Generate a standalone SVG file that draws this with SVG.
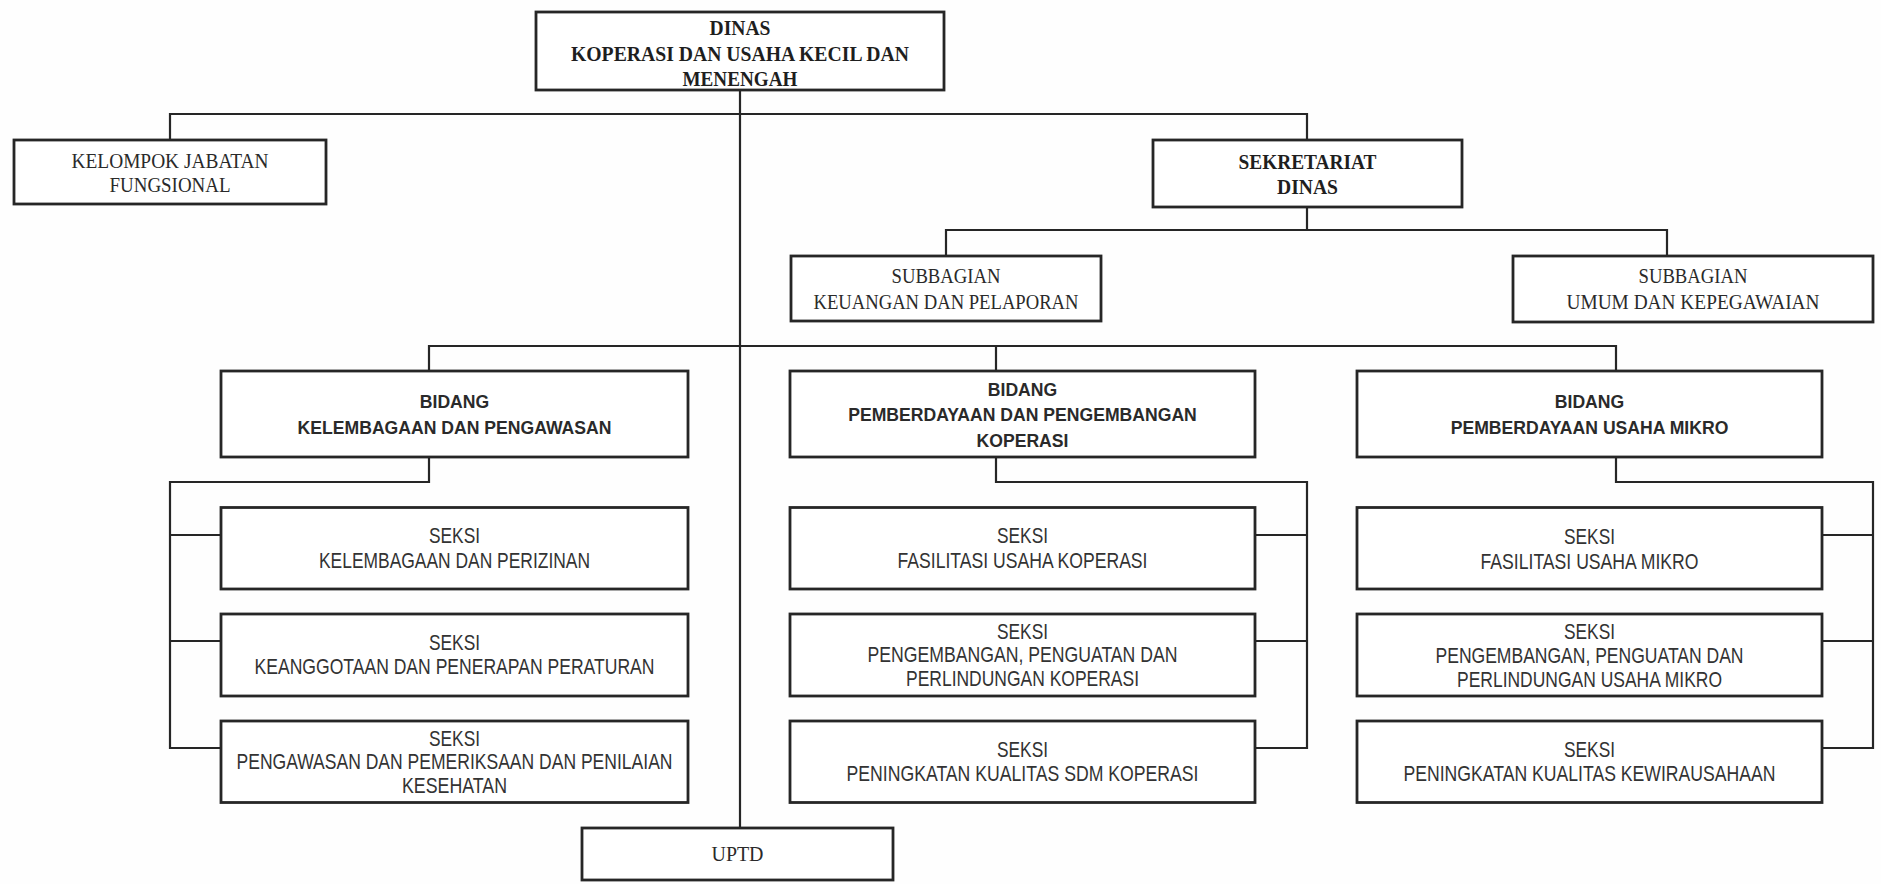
<svg xmlns="http://www.w3.org/2000/svg" width="1881" height="884" viewBox="0 0 1881 884">
<style>
.box{fill:#fff;stroke:#262626;stroke-width:2.8}
.ln{fill:none;stroke:#262626;stroke-width:2.2}
.sb{font-family:"Liberation Serif",serif;font-weight:bold;font-size:20px;fill:#1e1e1e;text-anchor:middle}
.sr{font-family:"Liberation Serif",serif;font-size:20.5px;fill:#2a2a2a;text-anchor:middle}
.hb{font-family:"Liberation Sans",Arial,sans-serif;font-weight:bold;font-size:17.6px;fill:#2a2a2a;text-anchor:middle}
.hr{font-family:"Liberation Sans",Arial,sans-serif;font-size:22px;fill:#333;text-anchor:middle}
</style>
<rect width="1881" height="884" fill="#fefefe"/>
<g id="connectors">
<path class="ln" d="M740 90V828"/>
<path class="ln" d="M170 140V114H1307V140"/>
<path class="ln" d="M1307 207V230M946 256V230H1667V256"/>
<path class="ln" d="M429 371V346H1616V371M996 346V371"/>
<path class="ln" d="M429 457V482H170V748H221M170 535H221M170 641H221"/>
<path class="ln" d="M996 457V482H1307V748H1255M1307 535H1255M1307 641H1255"/>
<path class="ln" d="M1616 457V482H1873V748H1822M1873 535H1822M1873 641H1822"/>
</g>
<g id="dinas">
<rect class="box" x="536" y="12" width="408" height="78"/>
<text class="sb" x="740" y="35" textLength="61" lengthAdjust="spacingAndGlyphs">DINAS</text>
<text class="sb" x="740" y="61" textLength="338" lengthAdjust="spacingAndGlyphs">KOPERASI DAN USAHA KECIL DAN</text>
<text class="sb" x="740" y="85.5" textLength="115" lengthAdjust="spacingAndGlyphs">MENENGAH</text>
</g>
<g id="kelompok">
<rect class="box" x="14" y="140" width="312" height="64"/>
<text class="sr" x="170" y="168" textLength="197" lengthAdjust="spacingAndGlyphs">KELOMPOK JABATAN</text>
<text class="sr" x="170" y="192" textLength="121" lengthAdjust="spacingAndGlyphs">FUNGSIONAL</text>
</g>
<g id="sekretariat">
<rect class="box" x="1153" y="140" width="309" height="67"/>
<text class="sb" x="1307.5" y="168.5" textLength="138" lengthAdjust="spacingAndGlyphs">SEKRETARIAT</text>
<text class="sb" x="1307.5" y="193.5" textLength="61" lengthAdjust="spacingAndGlyphs">DINAS</text>
</g>
<g id="subbagian-keuangan">
<rect class="box" x="791" y="256" width="310" height="65"/>
<text class="sr" x="946" y="283" textLength="109" lengthAdjust="spacingAndGlyphs">SUBBAGIAN</text>
<text class="sr" x="946" y="308.5" textLength="265" lengthAdjust="spacingAndGlyphs">KEUANGAN DAN PELAPORAN</text>
</g>
<g id="subbagian-umum">
<rect class="box" x="1513" y="256" width="360" height="66"/>
<text class="sr" x="1693" y="283" textLength="109" lengthAdjust="spacingAndGlyphs">SUBBAGIAN</text>
<text class="sr" x="1693" y="308.5" textLength="253" lengthAdjust="spacingAndGlyphs">UMUM DAN KEPEGAWAIAN</text>
</g>
<g id="bidang-kelembagaan">
<rect class="box" x="221" y="371" width="467" height="86"/>
<text class="hb" x="454.5" y="408">BIDANG</text>
<text class="hb" x="454.5" y="433.5">KELEMBAGAAN DAN PENGAWASAN</text>
</g>
<g id="bidang-koperasi">
<rect class="box" x="790" y="371" width="465" height="86"/>
<text class="hb" x="1022.5" y="395.5">BIDANG</text>
<text class="hb" x="1022.5" y="421">PEMBERDAYAAN DAN PENGEMBANGAN</text>
<text class="hb" x="1022.5" y="447">KOPERASI</text>
</g>
<g id="bidang-mikro">
<rect class="box" x="1357" y="371" width="465" height="86"/>
<text class="hb" x="1589.5" y="408">BIDANG</text>
<text class="hb" x="1589.5" y="433.5">PEMBERDAYAAN USAHA MIKRO</text>
</g>
<g id="seksi-kelembagaan-perizinan">
<rect class="box" x="221" y="507.5" width="467" height="81.5"/>
<text class="hr" x="454.5" y="543" textLength="51" lengthAdjust="spacingAndGlyphs">SEKSI</text>
<text class="hr" x="454.5" y="567.5" textLength="271" lengthAdjust="spacingAndGlyphs">KELEMBAGAAN DAN PERIZINAN</text>
</g>
<g id="seksi-keanggotaan">
<rect class="box" x="221" y="614" width="467" height="82"/>
<text class="hr" x="454.5" y="649.5" textLength="51" lengthAdjust="spacingAndGlyphs">SEKSI</text>
<text class="hr" x="454.5" y="674" textLength="400" lengthAdjust="spacingAndGlyphs">KEANGGOTAAN DAN PENERAPAN PERATURAN</text>
</g>
<g id="seksi-pengawasan">
<rect class="box" x="221" y="721" width="467" height="81.5"/>
<text class="hr" x="454.5" y="745.5" textLength="51" lengthAdjust="spacingAndGlyphs">SEKSI</text>
<text class="hr" x="454.5" y="769" textLength="436" lengthAdjust="spacingAndGlyphs">PENGAWASAN DAN PEMERIKSAAN DAN PENILAIAN</text>
<text class="hr" x="454.5" y="792.5" textLength="105" lengthAdjust="spacingAndGlyphs">KESEHATAN</text>
</g>
<g id="seksi-fasilitasi-koperasi">
<rect class="box" x="790" y="507.5" width="465" height="81.5"/>
<text class="hr" x="1022.5" y="543" textLength="51" lengthAdjust="spacingAndGlyphs">SEKSI</text>
<text class="hr" x="1022.5" y="567.5" textLength="250" lengthAdjust="spacingAndGlyphs">FASILITASI USAHA KOPERASI</text>
</g>
<g id="seksi-pengembangan-koperasi">
<rect class="box" x="790" y="614" width="465" height="82"/>
<text class="hr" x="1022.5" y="638.5" textLength="51" lengthAdjust="spacingAndGlyphs">SEKSI</text>
<text class="hr" x="1022.5" y="662" textLength="310" lengthAdjust="spacingAndGlyphs">PENGEMBANGAN, PENGUATAN DAN</text>
<text class="hr" x="1022.5" y="686" textLength="233" lengthAdjust="spacingAndGlyphs">PERLINDUNGAN KOPERASI</text>
</g>
<g id="seksi-sdm-koperasi">
<rect class="box" x="790" y="721" width="465" height="81.5"/>
<text class="hr" x="1022.5" y="756.5" textLength="51" lengthAdjust="spacingAndGlyphs">SEKSI</text>
<text class="hr" x="1022.5" y="780.5" textLength="352" lengthAdjust="spacingAndGlyphs">PENINGKATAN KUALITAS SDM KOPERASI</text>
</g>
<g id="seksi-fasilitasi-mikro">
<rect class="box" x="1357" y="507.5" width="465" height="81.5"/>
<text class="hr" x="1589.5" y="544" textLength="51" lengthAdjust="spacingAndGlyphs">SEKSI</text>
<text class="hr" x="1589.5" y="568.5" textLength="218" lengthAdjust="spacingAndGlyphs">FASILITASI USAHA MIKRO</text>
</g>
<g id="seksi-pengembangan-mikro">
<rect class="box" x="1357" y="614" width="465" height="82"/>
<text class="hr" x="1589.5" y="638.5" textLength="51" lengthAdjust="spacingAndGlyphs">SEKSI</text>
<text class="hr" x="1589.5" y="663" textLength="308" lengthAdjust="spacingAndGlyphs">PENGEMBANGAN, PENGUATAN DAN</text>
<text class="hr" x="1589.5" y="687" textLength="265" lengthAdjust="spacingAndGlyphs">PERLINDUNGAN USAHA MIKRO</text>
</g>
<g id="seksi-kewirausahaan">
<rect class="box" x="1357" y="721" width="465" height="81.5"/>
<text class="hr" x="1589.5" y="756.5" textLength="51" lengthAdjust="spacingAndGlyphs">SEKSI</text>
<text class="hr" x="1589.5" y="781" textLength="372" lengthAdjust="spacingAndGlyphs">PENINGKATAN KUALITAS KEWIRAUSAHAAN</text>
</g>
<g id="uptd">
<rect class="box" x="582" y="828" width="311" height="52"/>
<text class="sr" x="737.5" y="860.5" textLength="52" lengthAdjust="spacingAndGlyphs">UPTD</text>
</g>
</svg>
